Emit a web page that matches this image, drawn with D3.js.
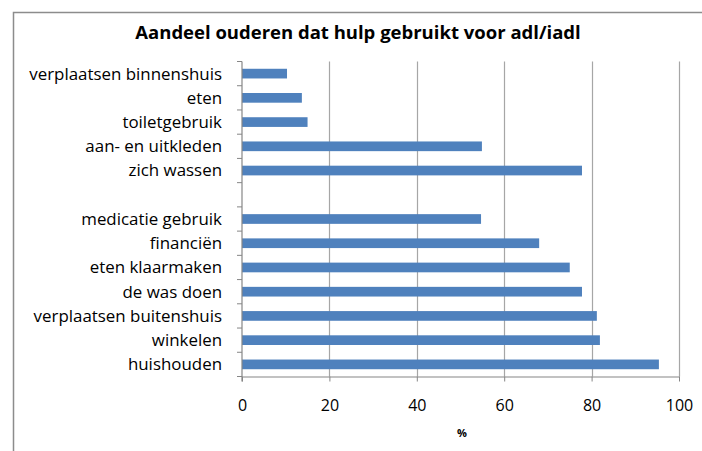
<!DOCTYPE html>
<html>
<head>
<meta charset="utf-8">
<script src="https://cdn.jsdelivr.net/npm/d3@7"></script>
<style>
  body { margin: 0; background: #fff; }
  text { font-family: "Open Sans", sans-serif; fill: #000; }
</style>
</head>
<body>
<script>
// categories top to bottom, "" is the empty gap between adl and iadl
const categories = [
  "verplaatsen binnenshuis", "eten", "toiletgebruik", "aan- en uitkleden", "zich wassen",
  "",
  "medicatie gebruik", "financiën", "eten klaarmaken", "de was doen",
  "verplaatsen buitenshuis", "winkelen", "huishouden"
];
const values = [10.3, 13.7, 15.0, 54.9, 77.8, null, 54.7, 68.0, 75.0, 77.8, 81.2, 81.9, 95.4];
const xTicks = [0, 20, 40, 60, 80, 100];

const W = 702, H = 451;
const plotL = 242, plotR = 679, plotT = 61.5, plotB = 376.5;

const svg = d3.select("body").append("svg")
  .attr("width", W).attr("height", H);

// outer chart border (right/bottom fall outside the window)
svg.append("path")
  .attr("d", "M13.5,460 V12.5 H720")
  .attr("fill", "none").attr("stroke", "#8c8c8c").attr("stroke-width", 1.5);

svg.append("text")
  .attr("x", 358).attr("y", 39)
  .attr("text-anchor", "middle")
  .style("font-size", "18.5px").style("font-weight", "bold")
  .text("Aandeel ouderen dat hulp gebruikt voor adl/iadl");

const x = d3.scaleLinear().domain([0, 100]).range([plotL, plotR]);
const y = d3.scaleBand().domain(d3.range(categories.length)).range([plotT, plotB]);

// gridlines
svg.append("g").selectAll("line")
  .data(xTicks.slice(1))
  .join("line")
  .attr("x1", d => Math.round(x(d)) + 0.5).attr("x2", d => Math.round(x(d)) + 0.5)
  .attr("y1", plotT).attr("y2", plotB)
  .attr("stroke", "#a6a6a6").attr("stroke-width", 1.2);

// bars
const barH = y.bandwidth() * 0.4;
svg.append("g").selectAll("rect")
  .data(values.map((v, i) => ({ v, i })).filter(d => d.v != null))
  .join("rect")
  .attr("x", x(0))
  .attr("y", d => y(d.i) + (y.bandwidth() - barH) / 2)
  .attr("width", d => x(d.v) - x(0))
  .attr("height", barH)
  .attr("fill", "#4f81bd");

// x axis
const xAxis = svg.append("g")
  .attr("transform", `translate(0,${plotB})`)
  .call(d3.axisBottom(x).tickValues(xTicks).tickSize(5).tickSizeOuter(0).tickPadding(0));
xAxis.select(".domain").attr("stroke", "#868686").attr("stroke-width", 1.2);
xAxis.selectAll(".tick line").attr("stroke", "#868686");
xAxis.selectAll("text")
  .attr("y", 34).attr("dy", null)
  .style("font-size", "16px").attr("fill", "#000");

// y axis with ticks between categories
const yAxis = svg.append("g").attr("transform", `translate(${plotL},0)`);
yAxis.append("line")
  .attr("x1", 0).attr("x2", 0).attr("y1", plotT).attr("y2", plotB + 5)
  .attr("stroke", "#868686").attr("stroke-width", 1.2);
yAxis.selectAll(".sep")
  .data(d3.range(categories.length + 1))
  .join("line")
  .attr("x1", -5).attr("x2", 0)
  .attr("y1", i => plotT + i * y.step()).attr("y2", i => plotT + i * y.step())
  .attr("stroke", "#868686");
yAxis.selectAll(".lbl")
  .data(categories)
  .join("text")
  .attr("x", -20)
  .attr("y", (d, i) => y(i) + y.bandwidth() / 2)
  .attr("dy", "0.35em")
  .attr("text-anchor", "end")
  .style("font-size", "16.9px")
  .text(d => d);

svg.append("text")
  .attr("x", 462).attr("y", 437)
  .attr("text-anchor", "middle")
  .style("font-size", "11px").style("font-weight", "bold")
  .text("%");
</script>
</body>
</html>
